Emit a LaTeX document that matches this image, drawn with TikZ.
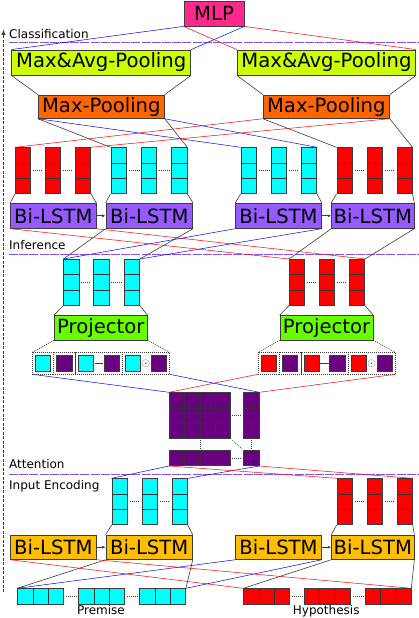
\documentclass[tikz,border=0pt]{standalone}
\usepackage{fontspec}
\setmainfont{DejaVu Sans}
\usetikzlibrary{calc,positioning,arrows.meta}

\definecolor{edge}{RGB}{60,60,60}
\definecolor{mlpc}{RGB}{255,40,140}
\definecolor{poolc}{RGB}{204,255,0}
\definecolor{maxc}{RGB}{255,102,0}
\definecolor{infc}{RGB}{150,90,255}
\definecolor{projc}{RGB}{102,255,0}
\definecolor{encc}{RGB}{255,190,0}
\definecolor{cellc}{RGB}{0,255,255}
\definecolor{cellr}{RGB}{255,0,0}
\definecolor{cellp}{RGB}{105,0,128}
\definecolor{sepc}{RGB}{135,80,230}

\newcommand{\bigfont}{\fontsize{19.6}{22}\selectfont}
\newcommand{\smallfont}{\fontsize{12}{14}\selectfont}

\tikzset{
  blk/.style={draw=edge, line width=0.8pt, fill=#1, inner sep=0pt, minimum height=24.5pt, font=\bigfont},
  cells/.style n args={3}{draw=edge, line width=0.7pt, fill=#1, inner sep=0pt, anchor=north west,
    minimum width=#2*15.3pt, minimum height=#3*15.3pt,
    path picture={
      \foreach \k in {1,...,#2}{\draw[black!80, line width=0.7pt]
        ($(path picture bounding box.north west)!\k/#2!(path picture bounding box.north east)$) --
        ($(path picture bounding box.south west)!\k/#2!(path picture bounding box.south east)$);}
      \foreach \k in {1,...,#3}{\draw[black!80, line width=0.7pt]
        ($(path picture bounding box.north west)!\k/#3!(path picture bounding box.south west)$) --
        ($(path picture bounding box.north east)!\k/#3!(path picture bounding box.south east)$);}
    }},
  comp/.style={draw=edge, dash pattern=on 1pt off 1pt, line width=0.6pt, minimum height=22pt, inner sep=0pt, outer sep=0pt, anchor=west},
  link/.style={draw=edge, line width=0.6pt},
  blink/.style={draw=blue, line width=0.5pt},
  rlink/.style={draw=red, line width=0.5pt},
  dots/.style={draw=edge, line width=0.6pt, dash pattern=on 1pt off 1pt},
  sepline/.style={draw=sepc, line width=1pt, dash pattern=on 9pt off 1.2pt},
  lstm/.style={-{Latex[length=3.5pt,width=3pt]}, draw=edge, line width=0.7pt},
  lab/.style={font=\smallfont, inner sep=0pt, anchor=base west},
}

\begin{document}
\begin{tikzpicture}[x=1pt, y=-1pt]
\useasboundingbox (0,0) rectangle (419,618);

%%%%% LAYERS %%%%%
\draw[draw=edge, line width=1.3pt, dash pattern=on 3pt off 1.5pt, -{Latex[length=6pt,width=4.5pt]}] (3.5,592) -- (3.5,29);
\draw[sepline] (9,42.3) -- (419,42.3);
\draw[sepline] (9,254.3) -- (419,254.3);
\draw[sepline] (9,474.7) -- (419,474.7);
\node[lab] (tcls) at (9,39) {Classification};
\node[lab] (tinf) at (9,249) {Inference};
\node[lab] (tatt) at (9,468.7) {Attention};
\node[lab] (tenc) at (9,489.3) {Input Encoding};

%%%%% CLASSIFICATION %%%%%
\node[blk=mlpc, minimum width=60pt, minimum height=25pt] (mlp) at (214,13.5) {MLP};
\node[blk=poolc, minimum width=179pt, minimum height=25pt] (maL) at (101.2,62.5) {Max\&Avg-Pooling};
\node[blk=poolc, minimum width=178.4pt, minimum height=25pt] (maR) at (326.5,62.5) {Max\&Avg-Pooling};
\node[blk=maxc, minimum width=126pt, minimum height=23.3pt] (mpL) at (101.3,106.7) {Max-Pooling};
\node[blk=maxc, minimum width=126pt, minimum height=23.3pt] (mpR) at (326.3,106.7) {Max-Pooling};

\draw[blink] (maL.north west) -- (mlp.south west);
\draw[blink] (maL.north east) -- (mlp.south east);
\draw[rlink] (maR.north west) -- (mlp.south west);
\draw[rlink] (maR.north east) -- (mlp.south east);
\foreach \s in {L,R}{
  \draw[link] (ma\s.south west) -- (mp\s.north west);
  \draw[link] (ma\s.south east) -- (mp\s.north east);
}

%%%%% INFERENCE %%%%%
\foreach \n/\x in {lr1/15, lr2/45, lr3/75, rr1/336.5, rr2/366.5, rr3/396.5}
  \node[cells={cellr}{1}{3}] (\n) at (\x,147.3) {};
\foreach \n/\x in {lc1/110.5, lc2/141, lc3/171.3, rc1/240.7, rc2/271, rc3/301}
  \node[cells={cellc}{1}{3}] (\n) at (\x,147.3) {};

\node[blk=infc, minimum width=85.3pt, minimum height=25pt] (bL1) at (53.3,215.8) {Bi-LSTM};
\node[blk=infc, minimum width=86.7pt, minimum height=25pt] (bL2) at (149.3,215.8) {Bi-LSTM};
\node[blk=infc, minimum width=85.6pt, minimum height=25pt] (bR1) at (278.5,215.8) {Bi-LSTM};
\node[blk=infc, minimum width=82.3pt, minimum height=25pt] (bR2) at (372.8,215.8) {Bi-LSTM};
\draw[lstm] (bL1) -- (bL2);
\draw[lstm] (bR1) -- (bR2);

\draw[link] (mpL.south west) -- (lc1.north west);
\draw[link] (mpL.south east) -- (lc3.north east);
\draw[blink] (mpL.south west) -- (rc1.north west);
\draw[blink] (mpL.south east) -- (rc3.north east);
\draw[rlink] (mpR.south west) -- (lr1.north west);
\draw[rlink] (mpR.south east) -- (lr3.north east);
\draw[link] (mpR.south west) -- (rr1.north west);
\draw[link] (mpR.south east) -- (rr3.north east);

\foreach \b/\v in {bL1/lr, bL2/lc, bR1/rc, bR2/rr}{
  \draw[link] (\b.north west) -- (\v1.south west);
  \draw[link] (\b.north east) -- (\v3.south east);
  \draw[dots] ([xshift=2pt]\v1.east) -- ([xshift=-2pt]\v2.west);
  \draw[dots] ([xshift=2pt]\v2.east) -- ([xshift=-2pt]\v3.west);
}

%%%%% PROJECTION %%%%%
\foreach \n/\x in {pc1/63.4, pc2/93.4, pc3/123.8}
  \node[cells={cellc}{1}{3}] (\n) at (\x,259) {};
\foreach \n/\x in {pr1/289, pr2/319, pr3/349}
  \node[cells={cellr}{1}{3}] (\n) at (\x,259) {};
\foreach \v in {pc,pr}{
  \draw[dots] ([xshift=2pt]\v1.east) -- ([xshift=-2pt]\v2.west);
  \draw[dots] ([xshift=2pt]\v2.east) -- ([xshift=-2pt]\v3.west);
}

\draw[link] (bL2.south west) -- (pc1.north west);
\draw[link] (bL2.south east) -- (pc3.north east);
\draw[rlink] (bL1.south west) -- (pr1.north west);
\draw[rlink] (bL1.south east) -- (pr3.north east);
\draw[blink] (bR1.south west) -- (pc1.north west);
\draw[blink] (bR1.south east) -- (pc3.north east);
\draw[link] (bR2.south west) -- (pr1.north west);
\draw[link] (bR2.south east) -- (pr3.north east);

\node[blk=projc, minimum width=93pt, minimum height=24.3pt] (projL) at (100.8,327.8) {Projector};
\node[blk=projc, minimum width=93pt, minimum height=24.3pt] (projR) at (326.5,327.8) {Projector};
\draw[link] (projL.north west) -- (pc1.south west);
\draw[link] (projL.north east) -- (pc3.south east);
\draw[link] (projR.north west) -- (pr1.south west);
\draw[link] (projR.north east) -- (pr3.south east);

% concatenated features
\foreach \s/\x/\c in {L/32.3/cellc, R/258/cellr}{
  \node[comp, minimum width=21pt] (c\s1) at (\x,363.3) {};
  \node[comp, minimum width=22pt, right=0pt of c\s1] (c\s2) {};
  \node[comp, minimum width=47pt, right=0pt of c\s2] (c\s3) {};
  \node[comp, minimum width=47.3pt, right=0pt of c\s3] (c\s4) {};
  \node[cells={\c}{1}{1}, anchor=center] (q\s1) at (c\s1.center) {};
  \node[cells={cellp}{1}{1}, anchor=center] (q\s2) at (c\s2.center) {};
  \node[cells={\c}{1}{1}, anchor=west] (q\s3) at ([xshift=2.6pt]c\s3.west) {};
  \node[cells={cellp}{1}{1}, anchor=east] (q\s4) at ([xshift=-2.6pt]c\s3.east) {};
  \node[cells={\c}{1}{1}, anchor=west] (q\s5) at ([xshift=2.6pt]c\s4.west) {};
  \node[cells={cellp}{1}{1}, anchor=east] (q\s6) at ([xshift=-2.6pt]c\s4.east) {};
  \draw[draw=edge, line width=1.6pt, shorten <=0.8pt, shorten >=0.8pt] (q\s3.east) -- (q\s4.west);
  \node[font=\fontsize{10.5}{11}\selectfont, text=edge, inner sep=0pt] (o\s) at ($(q\s5.east)!0.5!(q\s6.west)$) {$\odot$};
  \draw[dots] (proj\s.south west) -- (c\s1.north west);
  \draw[dots] (proj\s.south east) -- (c\s4.north east);
}

%%%%% ATTENTION %%%%%
\node[cells={cellp}{4}{3}] (att) at (169,392.3) {};
\node[cells={cellp}{1}{3}] (attv) at (243.3,392.3) {};
\node[cells={cellp}{4}{1}] (attr) at (169,450) {};
\node[cells={cellp}{1}{1}] (atts) at (243.3,450) {};
\draw[dots] ([xshift=1.5pt]att.east) -- ([xshift=-1.5pt]attv.west);
\draw[dots] ([yshift=-1.5pt]att.south) -- ([yshift=1.5pt]attr.north);
\draw[dots] ([yshift=-1.5pt]attv.south) -- ([yshift=1.5pt]atts.north);
\draw[dots] ([xshift=1.5pt]attr.east) -- ([xshift=-1.5pt]atts.west);
\draw[dots] ([shift={(1.5pt,-1.5pt)}]att.south east) -- ([shift={(-1.5pt,1.5pt)}]atts.north west);

\draw[blink] (cL1.south west) -- (att.north west);
\draw[blink] (cL4.south east) -- (attv.north east);
\draw[rlink] (cR1.south west) -- (att.north west);
\draw[rlink] (cR4.south east) -- (attv.north east);

%%%%% INPUT ENCODING %%%%%
\foreach \n/\x in {ec1/111.7, ec2/141.7, ec3/171.7}
  \node[cells={cellc}{1}{3}] (\n) at (\x,478.3) {};
\foreach \n/\x in {er1/336.7, er2/366.7, er3/396.7}
  \node[cells={cellr}{1}{3}] (\n) at (\x,478.3) {};

\draw[blink] (attr.south west) -- (ec1.north west);
\draw[blink] (atts.south east) -- (ec3.north east);
\draw[rlink] (attr.south west) -- (er1.north west);
\draw[rlink] (atts.south east) -- (er3.north east);

\node[blk=encc, minimum width=85.3pt, minimum height=24.3pt] (eL1) at (53.3,547.2) {Bi-LSTM};
\node[blk=encc, minimum width=86.3pt, minimum height=24.3pt] (eL2) at (149.2,547.2) {Bi-LSTM};
\node[blk=encc, minimum width=85.6pt, minimum height=24.3pt] (eR1) at (278.5,547.2) {Bi-LSTM};
\node[blk=encc, minimum width=82.3pt, minimum height=24.3pt] (eR2) at (372.8,547.2) {Bi-LSTM};
\draw[lstm] (eL1) -- (eL2);
\draw[lstm] (eR1) -- (eR2);

\foreach \b/\v in {eL2/ec, eR2/er}{
  \draw[link] (\b.north west) -- (\v1.south west);
  \draw[link] (\b.north east) -- (\v3.south east);
  \draw[dots] ([xshift=2pt]\v1.east) -- ([xshift=-2pt]\v2.west);
  \draw[dots] ([xshift=2pt]\v2.east) -- ([xshift=-2pt]\v3.west);
}

% word embeddings
\foreach \n/\x in {pw1/17.3, pw2/78.3, pw3/139.3}
  \node[cells={cellc}{3}{1}] (\n) at (\x,588.3) {};
\foreach \n/\x in {hw1/243.3, hw2/304, hw3/364.7}
  \node[cells={cellr}{3}{1}] (\n) at (\x,588.3) {};
\foreach \v in {pw,hw}{
  \draw[dots] ([xshift=2pt]\v1.east) -- ([xshift=-2pt]\v2.west);
  \draw[dots] ([xshift=2pt]\v2.east) -- ([xshift=-2pt]\v3.west);
}
\node[font=\smallfont, inner sep=0pt, anchor=base] (tpre) at (101,614) {Premise};
\node[font=\smallfont, inner sep=0pt, anchor=base] (thyp) at (326.2,614) {Hypothesis};

\draw[link] (eL2.south west) -- (pw1.north west);
\draw[link] (eL2.south east) -- (pw3.north east);
\draw[rlink] (eL1.south west) -- (hw1.north west);
\draw[rlink] (eL1.south east) -- (hw3.north east);
\draw[blink] (eR1.south west) -- (pw1.north west);
\draw[blink] (eR1.south east) -- (pw3.north east);
\draw[link] (eR2.south west) -- (hw1.north west);
\draw[link] (eR2.south east) -- (hw3.north east);

\end{tikzpicture}
\end{document}
